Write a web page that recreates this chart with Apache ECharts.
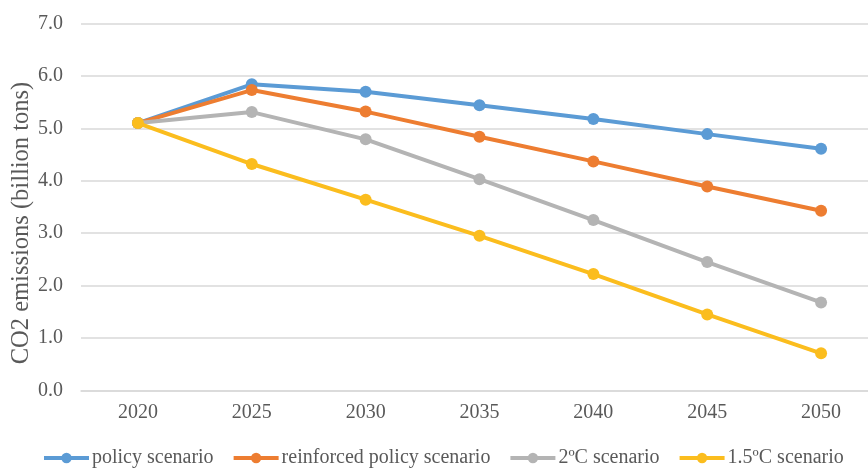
<!DOCTYPE html>
<html>
<head>
<meta charset="utf-8">
<script src="https://cdn.jsdelivr.net/npm/echarts@6/dist/echarts.min.js"></script>
<style>
  html, body { margin: 0; padding: 0; background: #fff; }
  #chart { width: 868px; height: 468px; }
</style>
</head>
<body>
<div id="chart"></div>
<script>
// CO2 emission pathways by scenario, 2020-2050 (billion tons)
const years = ['2020', '2025', '2030', '2035', '2040', '2045', '2050'];
const policy = [5.10, 5.84, 5.70, 5.44, 5.18, 4.89, 4.61];
const reinforced = [5.10, 5.73, 5.32, 4.84, 4.37, 3.89, 3.43];
const twoDegree = [5.10, 5.31, 4.79, 4.03, 3.25, 2.45, 1.68];
const onePointFive = [5.10, 4.32, 3.64, 2.95, 2.22, 1.45, 0.71];
const seriesNames = ['policy scenario', 'reinforced policy scenario', '2ºC scenario', '1.5ºC scenario'];
const yTicks = { min: 0, max: 7, interval: 1 };

const colors = ['#5B9BD5', '#ED7D31', '#B4B4B4', '#FBBD1E'];
const font = 'Liberation Serif, Times New Roman, serif';
const textColor = '#595959';

const makeSeries = (name, data, i) => ({
  name: name,
  type: 'line',
  data: data,
  symbol: 'circle',
  symbolSize: 12,
  lineStyle: { width: 4, color: colors[i] },
  itemStyle: { color: colors[i] },
  z: 2 + i
});

const chart = echarts.init(document.getElementById('chart'), null, { renderer: 'canvas' });
chart.setOption({
  animation: false,
  backgroundColor: '#ffffff',
  grid: { left: 81, top: 23.5, width: 797, height: 367, outerBoundsMode: 'none', containLabel: false },
  legend: {
    top: 443,
    left: 37,
    itemWidth: 45,
    itemHeight: 13,
    itemGap: 18,
    lineStyle: { width: 4 },
    textStyle: { fontFamily: font, fontSize: 20, color: textColor, padding: [0, 0, 0, -2] },
    data: seriesNames
  },
  xAxis: {
    type: 'category',
    data: years,
    boundaryGap: true,
    axisLine: { show: true, lineStyle: { color: '#D9D9D9', width: 1.5 } },
    axisTick: { show: false },
    axisLabel: { fontFamily: font, fontSize: 20, color: textColor, margin: 12 }
  },
  yAxis: {
    type: 'value',
    min: yTicks.min,
    max: yTicks.max,
    interval: yTicks.interval,
    name: 'CO2 emissions (billion tons)',
    nameLocation: 'middle',
    nameGap: 47,
    nameMoveOverlap: false,
    nameTextStyle: { fontFamily: font, fontSize: 24.5, color: textColor, padding: [0, 32, 0, 0] },
    axisLine: { show: false },
    axisTick: { show: false },
    splitLine: { lineStyle: { color: '#D9D9D9', width: 1.5 } },
    axisLabel: {
      fontFamily: font, fontSize: 20, color: textColor, margin: 18,
      formatter: v => v.toFixed(1)
    }
  },
  series: [
    makeSeries(seriesNames[0], policy, 0),
    makeSeries(seriesNames[1], reinforced, 1),
    makeSeries(seriesNames[2], twoDegree, 2),
    makeSeries(seriesNames[3], onePointFive, 3)
  ]
});
</script>
</body>
</html>
